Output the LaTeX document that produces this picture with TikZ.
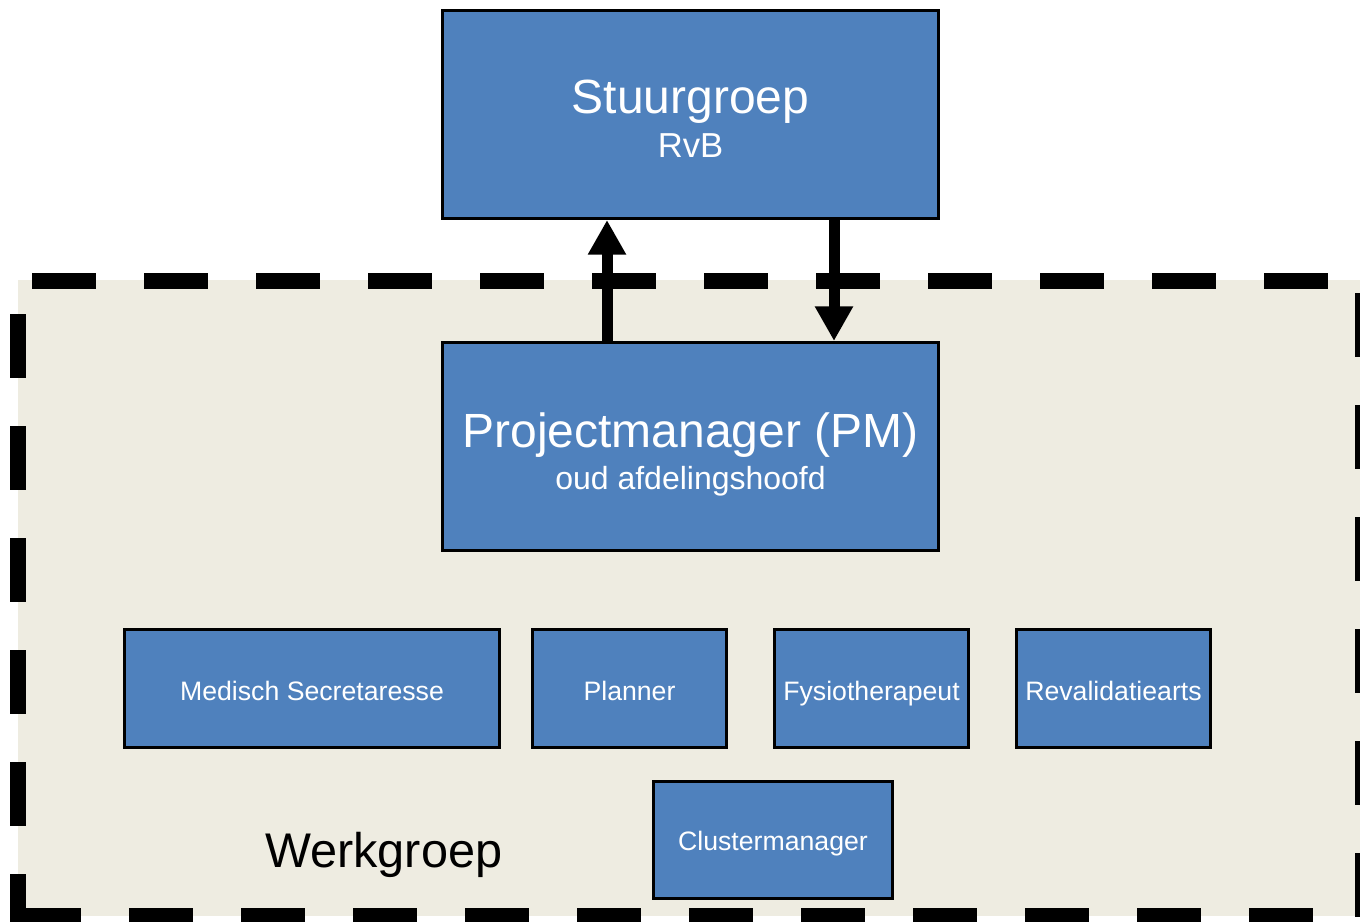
\documentclass[tikz,border=0pt]{standalone}
\usepackage{fontspec}
\setmainfont{Liberation Sans}
\usetikzlibrary{arrows.meta}
\definecolor{boxblue}{HTML}{4F81BD}
\definecolor{beige}{HTML}{EEECE1}
\begin{document}
\begin{tikzpicture}[x=0.75pt,y=-0.75pt,
  orgbox/.style={draw=black,line width=2.25pt,fill=boxblue,inner sep=0pt},
  bigtxt/.style={text=white,font=\fontsize{36}{40}\selectfont,anchor=base,inner sep=0pt},
  subtxt/.style={text=white,font=\fontsize{24}{28}\selectfont,anchor=base,inner sep=0pt},
  smalltxt/.style={text=white,font=\fontsize{20}{24}\selectfont,anchor=base,inner sep=0pt},
  border/.style={line width=12pt,dash pattern=on 48pt off 36pt},
  flow/.style={line width=8.25pt,-{Triangle[width=27pt,length=26pt]}}]
\useasboundingbox (0,0) rectangle (1360,921);
\clip (0,0) rectangle (1360,921);
% Werkgroep area
\fill[beige] (18,280) rectangle (1363,916);
\begin{scope}
  \clip (9.5,273) rectangle (1371,924);
  \draw[border] (-80,281) -- (1400,281);
  \draw[border] (17.5,90) -- (17.5,960);
  \draw[border] (1363,181) -- (1363,960);
  \draw[border] (17,916) -- (1400,916);
\end{scope}
% boxes
\node[orgbox,minimum width=372pt,minimum height=156pt] (stuur) at (690.5,114.5) {};
\node[orgbox,minimum width=372pt,minimum height=156pt] (pm) at (690.5,446.5) {};
\node[orgbox,minimum width=281.25pt,minimum height=88.5pt] (med) at (312,688.5) {};
\node[orgbox,minimum width=145.5pt,minimum height=88.5pt] (plan) at (629.5,688.5) {};
\node[orgbox,minimum width=145.5pt,minimum height=88.5pt] (fys) at (871.5,688.5) {};
\node[orgbox,minimum width=145.5pt,minimum height=88.5pt] (rev) at (1113.5,688.5) {};
\node[orgbox,minimum width=179.25pt,minimum height=87.75pt] (clus) at (773,840) {};
% texts
\node[bigtxt] (stuurT) at (690.5,113) {Stuurgroep};
\node[subtxt,font=\fontsize{26}{30}\selectfont] (stuurS) at (690.5,157) {RvB};
\node[bigtxt] (pmT) at (690.5,447) {Projectmanager (PM)};
\node[subtxt] (pmS) at (690.5,489) {oud afdelingshoofd};
\node[smalltxt] (medT) at (312,700) {Medisch Secretaresse};
\node[smalltxt] (planT) at (629.5,700) {Planner};
\node[smalltxt] (fysT) at (871.5,700) {Fysiotherapeut};
\node[smalltxt] (revT) at (1113.5,700) {Revalidatiearts};
\node[smalltxt] (clusT) at (773,850) {Clustermanager};
\node[font=\fontsize{36.5}{40}\selectfont,anchor=base west,inner sep=0pt] (werk) at (265,867) {Werkgroep};
% arrows
\coordinate (upx) at (607,0);
\coordinate (downx) at (834,0);
\draw[flow] (pm.north -| upx) -- (stuur.south -| upx);
\draw[flow] (stuur.south -| downx) -- (pm.north -| downx);
\end{tikzpicture}
\end{document}
